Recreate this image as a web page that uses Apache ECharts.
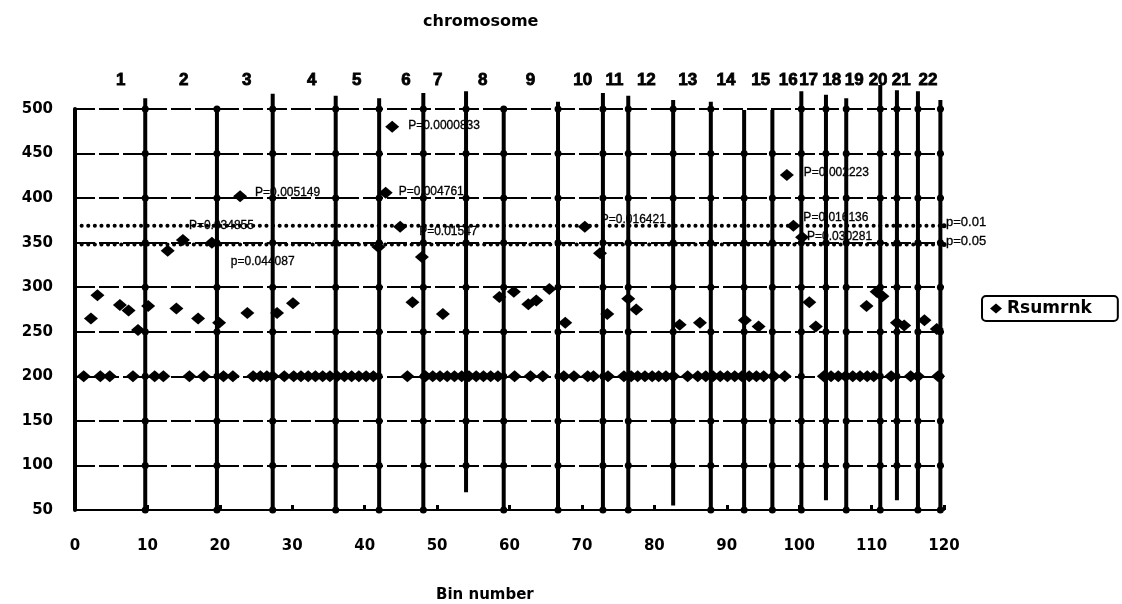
<!DOCTYPE html>
<html><head><meta charset="utf-8">
<script src="https://cdn.jsdelivr.net/npm/echarts@6/dist/echarts.min.js"></script>
<style>html,body{margin:0;padding:0;background:#fff}#c{width:1122px;height:604px}</style>
</head><body><div id="c"></div>
<script>
// ---- data ----
const baselineBins = [1.2, 3.5, 4.8, 8.0, 11.0, 12.2, 15.8, 17.8, 20.5, 21.8, 24.6, 25.6, 26.5, 27.3, 28.9,
  30.2, 31.2, 32.2, 33.2, 34.2, 35.2, 36.2, 37.2, 38.2, 39.2, 40.2, 41.2, 45.9,
  48.4, 49.4, 50.4, 51.4, 52.4, 53.4, 54.4, 55.4, 56.4, 57.4, 58.4, 60.7, 62.9, 64.6,
  67.5, 68.9, 70.8, 71.6, 73.6, 75.8, 76.8, 77.7, 78.7, 79.7, 80.6, 81.6, 82.6,
  84.6, 86.0, 87.1, 88.1, 89.1, 90.1, 91.1, 92.1, 93.1, 94.1, 95.1, 96.5, 98.0,
  103.4, 104.4, 105.4, 106.4, 107.4, 108.4, 109.4, 110.3, 112.7, 115.4, 116.4, 119.2];
const baselineValues = [200, 200, 200, 200, 200, 200, 200, 200, 200, 200, 200, 200, 200, 200, 200,
  200, 200, 200, 200, 200, 200, 200, 200, 200, 200, 200, 200, 200,
  200, 200, 200, 200, 200, 200, 200, 200, 200, 200, 200, 200, 200, 200,
  200, 200, 200, 200, 200, 200, 200, 200, 200, 200, 200, 200, 200,
  200, 200, 200, 200, 200, 200, 200, 200, 200, 200, 200, 200, 200,
  200, 200, 200, 200, 200, 200, 200, 200, 200, 200, 200, 200];
const bandBins = [2.2, 3.1, 6.2, 7.4, 8.7, 10.1, 14.0, 17.0, 19.9, 23.8, 27.9, 30.1, 46.6, 50.8,
  58.6, 60.6, 62.6, 63.7, 65.5, 67.7, 73.5, 76.4, 77.5, 83.5, 86.3, 92.5, 94.4,
  101.4, 102.3, 109.3, 110.7, 111.5, 113.5, 114.5, 117.3, 119.0];
const bandValues = [265, 291, 280, 274, 252, 279, 276, 265, 260, 271, 271, 282, 283, 270,
  289, 295, 281, 285, 298, 260, 270, 287, 275, 258, 260, 263, 256,
  283, 256, 279, 295, 290, 260, 257, 263, 253];
const sigBins = [12.8, 14.9, 18.9, 22.8, 41.9, 42.9, 43.8, 44.9, 47.9, 70.4, 72.5, 98.3, 99.2, 100.4];
const sigValues = [341, 353, 350, 402, 345, 406, 480, 368, 334, 368, 338, 426, 369, 356];
const sigLabels = ['', 'P=0.034855', 'p=0.044087', 'P=0.005149', '', 'P=0.004761', 'P=0.0000833',
  'P=0.01547', '', 'P=0.016421', '', 'P=0.002223', 'P=0.016136', 'P=0.030281'];

const boundaryBins = [9.7, 19.6, 27.3, 36.0, 42.0, 48.1, 54.0, 59.2, 66.7, 72.9, 76.4, 82.6,
  87.8, 92.4, 96.3, 100.3, 103.7, 106.5, 111.2, 113.5, 116.4, 119.5];
const boundaryTops = [512, 501, 517, 515, 512, 518, 520, 502, 508, 518, 515, 510,
  508, 499, 499, 520, 516, 512, 527, 521, 520, 510];
const boundaryBottoms = [50, 50, 50, 50, 50, 50, 70, 50, 50, 50, 50, 55,
  50, 50, 50, 50, 61, 50, 50, 61, 50, 50];

const chromosomes = ['1','2','3','4','5','6','7','8','9','10','11','12','13','14','15','16','17','18','19','20','21','22'];
const chromosomeBins = [6.3, 15.0, 23.7, 32.7, 38.9, 45.7, 50.1, 56.3, 62.9, 70.1, 74.5, 78.9,
  84.6, 89.9, 94.7, 98.5, 101.3, 104.5, 107.6, 110.9, 114.1, 117.8];

const thresholdNames = ['p=0.01', 'p=0.05'];
const thresholdValues = [369, 348];

// ---- styling ----
const LABEL_FONT = 'Liberation Sans, Arial, sans-serif';
const BOLD_FONT = 'DejaVu Sans, sans-serif';
const CHR_LABEL_Y = 532;
// label offsets (px) relative to default 'right' placement, keyed by label text
const labelOffsets = {
  'P=0.034855': [-6, -14], 'p=0.044087': [7, 19], 'P=0.005149': [3, -4],
  'P=0.0000833': [4, -1], 'P=0.004761': [1, -1], 'P=0.01547': [7, 5],
  'P=0.016421': [4, -7], 'P=0.002223': [5, -2], 'P=0.016136': [-2, -8], 'P=0.030281': [-7, -1]
};

const pointData = [];
baselineBins.forEach((b, i) => pointData.push({ value: [b, baselineValues[i]] }));
bandBins.forEach((b, i) => pointData.push({ value: [b, bandValues[i]] }));
sigBins.forEach((b, i) => {
  const t = sigLabels[i];
  const item = { value: [sigBins[i], sigValues[i]] };
  if (t) {
    item.label = { show: true, formatter: t, position: 'right', distance: 5,
      offset: labelOffsets[t] || [0, 0], color: '#000', fontSize: 12, fontFamily: LABEL_FONT,
      textBorderColor: '#000', textBorderWidth: 0.3 };
  }
  pointData.push(item);
});

const series = [];
boundaryBins.forEach((b, i) => {
  const d = [];
  if (boundaryBottoms[i] % 50 !== 0) d.push({ value: [b, boundaryBottoms[i]], symbol: 'none' });
  for (let v = 50; v <= 500; v += 50) {
    if (v >= boundaryBottoms[i] && v <= boundaryTops[i]) d.push({ value: [b, v], symbol: 'circle' });
  }
  if (boundaryTops[i] % 50 !== 0) d.push({ value: [b, boundaryTops[i]], symbol: 'none' });
  series.push({
    type: 'line', name: 'boundary' + i, data: d, clip: false, silent: true,
    symbolSize: 7, itemStyle: { color: '#000', opacity: 1 },
    lineStyle: { color: '#000', width: 4 }, z: 2
  });
});

thresholdNames.forEach((n, i) => {
  series.push({
    type: 'line', name: n, clip: false, silent: true,
    data: [{ value: [0, thresholdValues[i]], symbol: 'none' }, { value: [120, thresholdValues[i]], symbol: 'circle' }],
    symbolSize: 5, itemStyle: { color: '#000', opacity: 1 },
    lineStyle: { color: '#000', width: 4, type: [0.1, 6.5], cap: 'round' },
    endLabel: { show: true, formatter: n, color: '#000', fontSize: 13, fontFamily: LABEL_FONT, distance: 2, offset: [0, -3],
      textBorderColor: '#000', textBorderWidth: 0.3 },
    z: 3
  });
});

series.push({
  type: 'scatter', name: 'chromosome labels', silent: true, clip: false,
  symbol: 'circle', symbolSize: 1, itemStyle: { color: '#fff', opacity: 1 },
  data: chromosomes.map((c, i) => ({ value: [chromosomeBins[i], CHR_LABEL_Y], name: c })),
  label: { show: true, position: 'inside', formatter: p => p.name, color: '#000', opacity: 1,
    fontSize: 17, fontWeight: 'bold', fontFamily: 'Liberation Sans, Arial, sans-serif',
    textBorderColor: '#000', textBorderWidth: 0.8 },
  z: 6
});

series.push({
  type: 'scatter', name: 'Rsumrnk', data: pointData, clip: false,
  symbol: 'diamond', symbolSize: [14, 12], itemStyle: { color: '#000', opacity: 1 }, z: 5
});

const chart = echarts.init(document.getElementById('c'));
chart.setOption({
  animation: false,
  backgroundColor: '#fff',
  title: [
    { text: 'chromosome', left: 418, top: 9, textStyle: { fontFamily: BOLD_FONT, fontWeight: 'bold', fontSize: 16, color: '#000' } },
    { text: 'Bin number', left: 431, top: 583, textStyle: { fontFamily: BOLD_FONT, fontWeight: 'bold', fontSize: 15, color: '#000' } }
  ],
  legend: {
    data: [{ name: 'Rsumrnk', icon: 'diamond', itemStyle: { color: '#000', opacity: 1 } }], left: 982, top: 296,
    itemWidth: 12, itemHeight: 10, itemGap: 6,
    borderColor: '#000', borderWidth: 2, borderRadius: 4, padding: [4, 26, 4, 8],
    textStyle: { fontFamily: BOLD_FONT, fontWeight: 'bold', fontSize: 17, color: '#000' }
  },
  grid: { left: 75, right: 178, top: 109, bottom: 94, containLabel: false },
  xAxis: {
    type: 'value', min: 0, max: 120, interval: 10,
    axisLine: { show: true, lineStyle: { color: '#000', width: 2 } },
    axisTick: { show: true, inside: true, length: 5, lineStyle: { color: '#000', width: 3 } },
    axisLabel: { margin: 29, color: '#000', fontFamily: BOLD_FONT, fontWeight: 'bold', fontSize: 15 },
    splitLine: { show: false }
  },
  yAxis: {
    type: 'value', min: 50, max: 500, interval: 50,
    axisLine: { show: true, lineStyle: { color: '#000', width: 4 } },
    axisTick: { show: false },
    axisLabel: { margin: 22, color: '#000', fontFamily: BOLD_FONT, fontWeight: 'bold', fontSize: 15 },
    splitLine: { show: true, lineStyle: { color: '#000', width: 2, type: [20, 4] } }
  },
  series: series
});
</script></body></html>
